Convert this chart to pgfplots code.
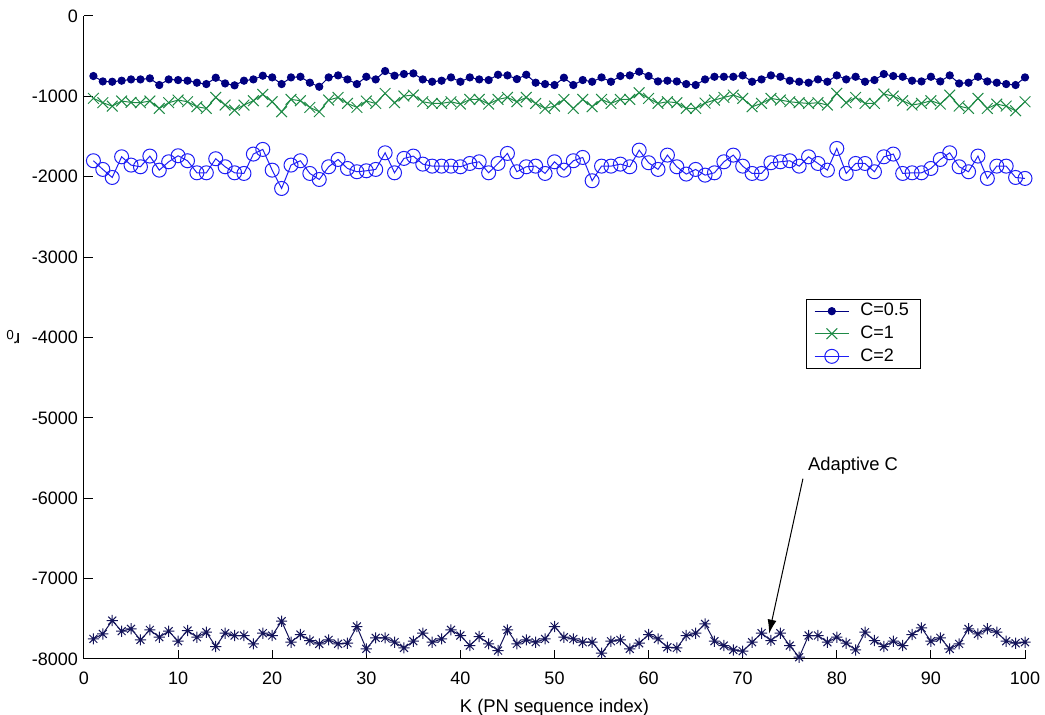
\documentclass[border=0pt]{standalone}
\usepackage{fontspec}
\setmainfont{Liberation Sans}
\usepackage{graphicx}
\usepackage{pgfplots}
\usepackage{pgfplotstable}
\pgfplotsset{compat=1.18}
\usetikzlibrary{arrows.meta}
\definecolor{cnavy}{RGB}{0,0,128}
\definecolor{cgreen}{RGB}{30,138,70}
\definecolor{cblue}{RGB}{30,30,245}
\definecolor{cadapt}{RGB}{20,20,90}
\pgfdeclareplotmark{ast8}{%
  \pgfpathmoveto{\pgfqpoint{-\pgfplotmarksize}{0pt}}\pgfpathlineto{\pgfqpoint{\pgfplotmarksize}{0pt}}%
  \pgfpathmoveto{\pgfqpoint{0pt}{-\pgfplotmarksize}}\pgfpathlineto{\pgfqpoint{0pt}{\pgfplotmarksize}}%
  \pgfpathmoveto{\pgfqpoint{-.7071\pgfplotmarksize}{-.7071\pgfplotmarksize}}\pgfpathlineto{\pgfqpoint{.7071\pgfplotmarksize}{.7071\pgfplotmarksize}}%
  \pgfpathmoveto{\pgfqpoint{-.7071\pgfplotmarksize}{.7071\pgfplotmarksize}}\pgfpathlineto{\pgfqpoint{.7071\pgfplotmarksize}{-.7071\pgfplotmarksize}}%
  \pgfusepathqstroke}
\pgfplotstableread{
k c05 c1 c2 ad
1 -747 -1025 -1801 -7750
2 -814 -1079 -1909 -7688
3 -818 -1121 -2009 -7522
4 -805 -1058 -1752 -7654
5 -789 -1075 -1855 -7625
6 -789 -1079 -1876 -7762
7 -776 -1058 -1743 -7638
8 -859 -1150 -1918 -7729
9 -789 -1079 -1814 -7654
10 -797 -1046 -1739 -7779
11 -805 -1067 -1801 -7646
12 -830 -1129 -1951 -7729
13 -847 -1150 -1951 -7667
14 -768 -1013 -1776 -7845
15 -839 -1108 -1876 -7679
16 -863 -1171 -1951 -7708
17 -805 -1108 -1959 -7708
18 -789 -1054 -1718 -7812
19 -743 -975 -1660 -7679
20 -764 -1067 -1918 -7708
21 -847 -1191 -2146 -7530
22 -764 -1038 -1855 -7791
23 -756 -1054 -1801 -7696
24 -830 -1137 -1959 -7771
25 -880 -1191 -2034 -7812
26 -764 -1046 -1876 -7762
27 -739 -1013 -1785 -7812
28 -789 -1088 -1897 -7804
29 -847 -1137 -1938 -7596
30 -756 -1058 -1926 -7874
31 -789 -1088 -1909 -7737
32 -685 -963 -1702 -7737
33 -743 -1079 -1951 -7791
34 -722 -996 -1772 -7862
35 -714 -984 -1743 -7779
36 -789 -1067 -1843 -7679
37 -818 -1088 -1868 -7791
38 -805 -1088 -1868 -7750
39 -764 -1067 -1868 -7638
40 -818 -1096 -1876 -7708
41 -764 -1038 -1835 -7833
42 -789 -1038 -1814 -7721
43 -797 -1096 -1951 -7812
44 -731 -1038 -1835 -7895
45 -739 -1013 -1710 -7638
46 -785 -1067 -1938 -7812
47 -731 -1013 -1876 -7762
48 -830 -1088 -1868 -7791
49 -847 -1150 -1959 -7750
50 -859 -1121 -1814 -7596
51 -768 -1038 -1918 -7729
52 -859 -1150 -1801 -7750
53 -797 -1038 -1760 -7791
54 -818 -1129 -2050 -7791
55 -764 -1038 -1868 -7928
56 -818 -1088 -1868 -7779
57 -747 -1038 -1843 -7762
58 -739 -1038 -1876 -7874
59 -693 -955 -1669 -7804
60 -747 -1025 -1826 -7696
61 -814 -1088 -1909 -7750
62 -805 -1067 -1731 -7854
63 -814 -1079 -1876 -7862
64 -847 -1150 -1967 -7708
65 -859 -1150 -1909 -7679
66 -789 -1083 -1980 -7563
67 -756 -1046 -1951 -7779
68 -756 -1013 -1814 -7833
69 -756 -984 -1731 -7887
70 -739 -1025 -1868 -7903
71 -818 -1129 -1959 -7791
72 -789 -1088 -1959 -7679
73 -739 -1025 -1826 -7771
74 -756 -1046 -1814 -7679
75 -805 -1067 -1801 -7833
76 -818 -1079 -1868 -7978
77 -830 -1088 -1752 -7708
78 -789 -1079 -1835 -7708
79 -818 -1108 -1918 -7791
80 -739 -963 -1648 -7729
81 -789 -1079 -1959 -7804
82 -756 -1013 -1835 -7887
83 -818 -1088 -1835 -7667
84 -797 -1088 -1938 -7771
85 -722 -971 -1752 -7845
86 -747 -996 -1718 -7779
87 -756 -1054 -1959 -7833
88 -805 -1108 -1951 -7696
89 -814 -1088 -1951 -7613
90 -756 -1054 -1897 -7779
91 -814 -1096 -1785 -7737
92 -739 -984 -1702 -7874
93 -839 -1121 -1876 -7812
94 -830 -1150 -1938 -7625
95 -756 -1025 -1743 -7688
96 -814 -1150 -2021 -7625
97 -830 -1096 -1868 -7667
98 -847 -1121 -1868 -7779
99 -859 -1179 -2009 -7804
100 -764 -1067 -2021 -7791
}\datatable
\begin{document}
\begin{tikzpicture}
\begin{axis}[
  scale only axis,
  width=470.5pt, height=321.5pt,
  xmin=0, xmax=100, ymin=-8000, ymax=0,
  xtick={0,10,...,100},
  ytick={-8000,-7000,...,0},
  axis x line=bottom, axis y line=left,
  axis line style={-, line width=0.5pt},
  tick align=inside,
  major tick length=4.5pt,
  tick style={black, line width=0.5pt},
  font=\fontsize{9}{10.8}\selectfont,
  /pgf/number format/assume math mode=true,
  /pgf/number format/1000 sep={},
  xticklabel style={yshift=-3pt},
  yticklabel style={xshift=0.5pt},
  xlabel={K (PN sequence index)},
  xlabel style={at={(axis description cs:0.5,0)}, anchor=base, yshift=-26.8pt, font=\fontsize{9.2}{11}\selectfont},
  ylabel={\rotatebox{90}{r\textsubscript{0}}},
  ylabel style={at={(axis description cs:-0.0755,0.5)}, anchor=center, font=\fontsize{9.5}{11}\selectfont},
  legend style={at={(rel axis cs:0.767,0.560)}, anchor=north west, draw=black, line width=0.5pt, fill=white,
    font=\fontsize{9}{10.8}\selectfont, inner xsep=4pt, inner ysep=0pt, row sep=-0.5pt, column sep=3.5pt},
  legend cell align=left,
]
\addplot[color=cnavy, line width=0.5pt, mark=*, mark size=1.8pt, mark options={fill=cnavy}] table[x=k, y=c05] {\datatable};
\addlegendentry{C=0.5}
\addplot[color=cgreen, line width=0.5pt, mark=x, mark size=3.8pt] table[x=k, y=c1] {\datatable};
\addlegendentry{C=1}
\addplot[color=cblue, line width=0.5pt, mark=o, mark size=3.5pt] table[x=k, y=c2] {\datatable};
\addlegendentry{C=2}
\addplot[color=cadapt, line width=0.5pt, mark=ast8, mark size=2.8pt, forget plot] table[x=k, y=ad] {\datatable};
\draw[line width=0.5pt, -{Latex[length=7pt, width=4.5pt]}] (axis cs:76.4,-5757) -- (axis cs:72.8,-7685);
\node[anchor=west, inner sep=0pt, font=\fontsize{9.2}{11}\selectfont] at (axis cs:76.9,-5595) {Adaptive C};
\coordinate (SW) at (rel axis cs:0,0);
\coordinate (NE) at (rel axis cs:1,1);
\end{axis}
\pgfresetboundingbox
\path ([shift={(-42pt,-28pt)}]SW) rectangle ([shift={(10pt,8pt)}]NE);
\end{tikzpicture}
\end{document}
